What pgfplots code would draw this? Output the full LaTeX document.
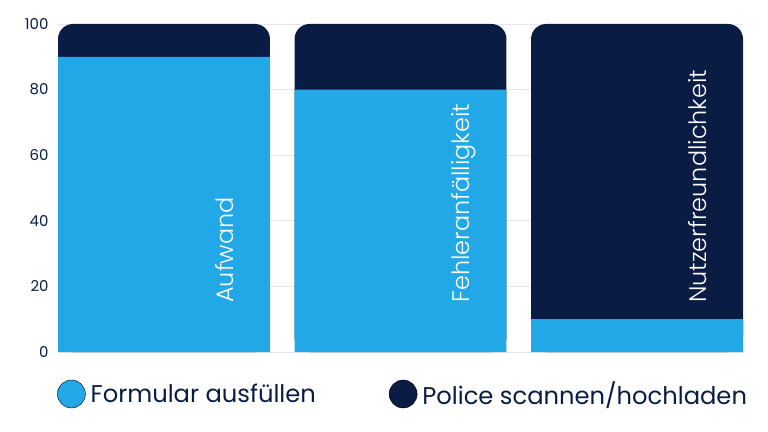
\documentclass[border=0pt]{standalone}
\usepackage{fontspec}
\setmainfont{Poppins}
\newfontfamily\plight{Poppins Light}
\usepackage{pgfplots}
\pgfplotsset{compat=1.18}
\usepackage{pgfplotstable}
\definecolor{cblue}{HTML}{22A8E6}
\definecolor{cnavy}{HTML}{0A1C44}
\definecolor{cgrid}{HTML}{E6E6EA}
\pgfplotstableread{
x f p
0 90 10
1 80 20
2 10 90
}\datatable
\begin{document}
\begin{tikzpicture}
\useasboundingbox (0bp,0bp) rectangle (768bp,432bp);
\begin{axis}[
  at={(58bp,80bp)}, anchor=south west,
  scale only axis, width=685bp, height=328bp,
  xmin=-0.448, xmax=2.448, ymin=0, ymax=100,
  ytick={0,20,...,100},
  xtick=\empty,
  axis line style={draw=none},
  ymajorgrids, grid style={cgrid, line width=0.8bp},
  major tick length=0pt,
  yticklabel style={font=\fontsize{15}{18}\selectfont, text=cnavy, xshift=-6bp},
  /pgf/number format/assume math mode=true,
  clip=false,
  legend columns=2,
  legend image code/.code={\fill[#1] (14bp,0bp) circle (14bp);},
  legend style={at={(axis description cs:0,0)}, anchor=west, yshift=-42bp, xshift=-1bp,
    draw=none, fill=none, inner sep=0pt,
    font=\fontsize{24.3}{29}\selectfont, text=cnavy,
    nodes={inner xsep=5bp, inner ysep=0pt},
    /tikz/every even column/.append style={column sep=68bp}},
]
\addplot[ybar, bar width=0.896, bar shift=0pt, fill=cnavy, draw=none, rounded corners=15bp, forget plot]
  table[x=x, y expr=\thisrow{f}+\thisrow{p}] {\datatable};
\addplot[ybar, bar width=0.896, bar shift=0pt, fill=cblue, draw=none, forget plot]
  table[x=x, y=f] {\datatable};
\addlegendimage{fill=cblue}
\addlegendentry{Formular ausfüllen}
\addlegendimage{fill=cnavy}
\addlegendentry{Police scannen/hochladen}
\begin{scope}[every node/.style={rotate=90, anchor=base west, inner sep=0pt, text=white, font=\plight\fontsize{24}{28}\selectfont}]
\node at (axis cs:0.292,15) {Aufwand};
\node at (axis cs:1.292,15) {Fehleranfälligkeit};
\node at (axis cs:2.292,15) {Nutzerfreundlichkeit};
\end{scope}
\end{axis}
\end{tikzpicture}
\end{document}
